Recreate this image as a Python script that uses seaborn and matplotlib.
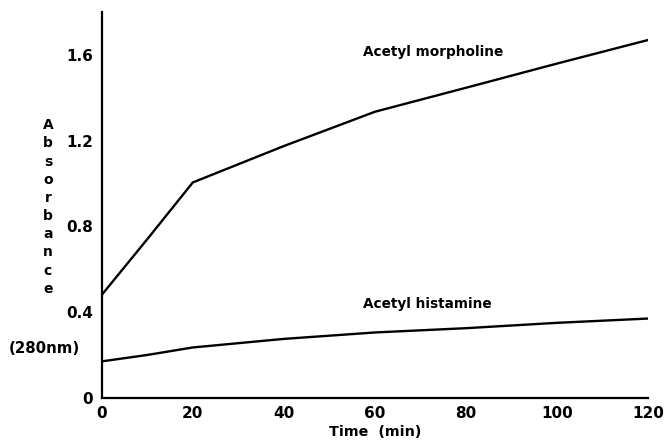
import numpy as np
import pandas as pd
import matplotlib
matplotlib.use("Agg")
import matplotlib.pyplot as plt
import seaborn as sns

# Absorbance at 280 nm over time for two acetylated compounds
time_morpholine = [0, 10, 20, 30, 40, 50, 60, 80, 100, 120]
abs_morpholine = [0.48, 0.74, 1.005, 1.09, 1.175, 1.255, 1.335, 1.447, 1.56, 1.67]

time_histamine = [0, 10, 20, 40, 60, 80, 100, 120]
abs_histamine = [0.17, 0.20, 0.235, 0.275, 0.305, 0.325, 0.35, 0.37]

series_names = ["Acetyl morpholine", "Acetyl histamine"]
x_ticks = [0, 20, 40, 60, 80, 100, 120]
y_ticks = [0, 0.4, 0.8, 1.2, 1.6]
y_tick_labels = ["0", "0.4", "0.8", "1.2", "1.6"]

df = pd.concat([
    pd.DataFrame({"time": time_morpholine, "absorbance": abs_morpholine,
                  "compound": series_names[0]}),
    pd.DataFrame({"time": time_histamine, "absorbance": abs_histamine,
                  "compound": series_names[1]}),
], ignore_index=True)

sns.set_style("white")
plt.rcParams["font.family"] = ["DejaVu Sans"]
plt.rcParams["font.weight"] = "bold"
plt.rcParams["text.color"] = "black"
plt.rcParams["axes.labelcolor"] = "black"
plt.rcParams["xtick.color"] = "black"
plt.rcParams["ytick.color"] = "black"

fig = plt.figure(figsize=(6.69, 4.48), dpi=100)
ax = fig.add_axes([0.152, 0.112, 0.817, 0.861])

sns.lineplot(data=df, x="time", y="absorbance", hue="compound",
             palette=["black", "black"], linewidth=1.7, legend=False,
             sort=True, estimator=None, ax=ax)

ax.set_xlim(0, 120)
ax.set_ylim(0, 1.8)
ax.set_xticks(x_ticks)
ax.set_xticklabels([str(t) for t in x_ticks], fontsize=11, fontweight="bold")
ax.set_yticks(y_ticks)
ax.set_yticklabels(y_tick_labels, fontsize=11, fontweight="bold")
ax.tick_params(axis="both", direction="inout", length=8, width=1.3,
               color="black", labelcolor="black", pad=2)
ax.set_xlabel("Time  (min)", fontsize=10.3, fontweight="bold", labelpad=3,
              color="black")
ax.set_ylabel("")

for side in ["top", "right"]:
    ax.spines[side].set_visible(False)
for side in ["left", "bottom"]:
    ax.spines[side].set_color("black")
    ax.spines[side].set_linewidth(1.6)
ax.margins(0)

ax.text(57.4, 1.615, series_names[0], fontsize=9.8, fontweight="bold",
        va="center", ha="left", color="black")
ax.text(57.4, 0.44, series_names[1], fontsize=9.8, fontweight="bold",
        va="center", ha="left", color="black")

# stacked vertical axis title
fig.text(48 / 669, 1 - 207 / 448, "\n".join("Absorbance"), fontsize=10,
         fontweight="bold", ha="center", va="center", linespacing=1.38,
         color="black")
fig.text(44 / 669, 1 - 348 / 448, "(280nm)", fontsize=10.8,
         fontweight="bold", ha="center", va="center", color="black")

fig.savefig("out.png", dpi=100)
